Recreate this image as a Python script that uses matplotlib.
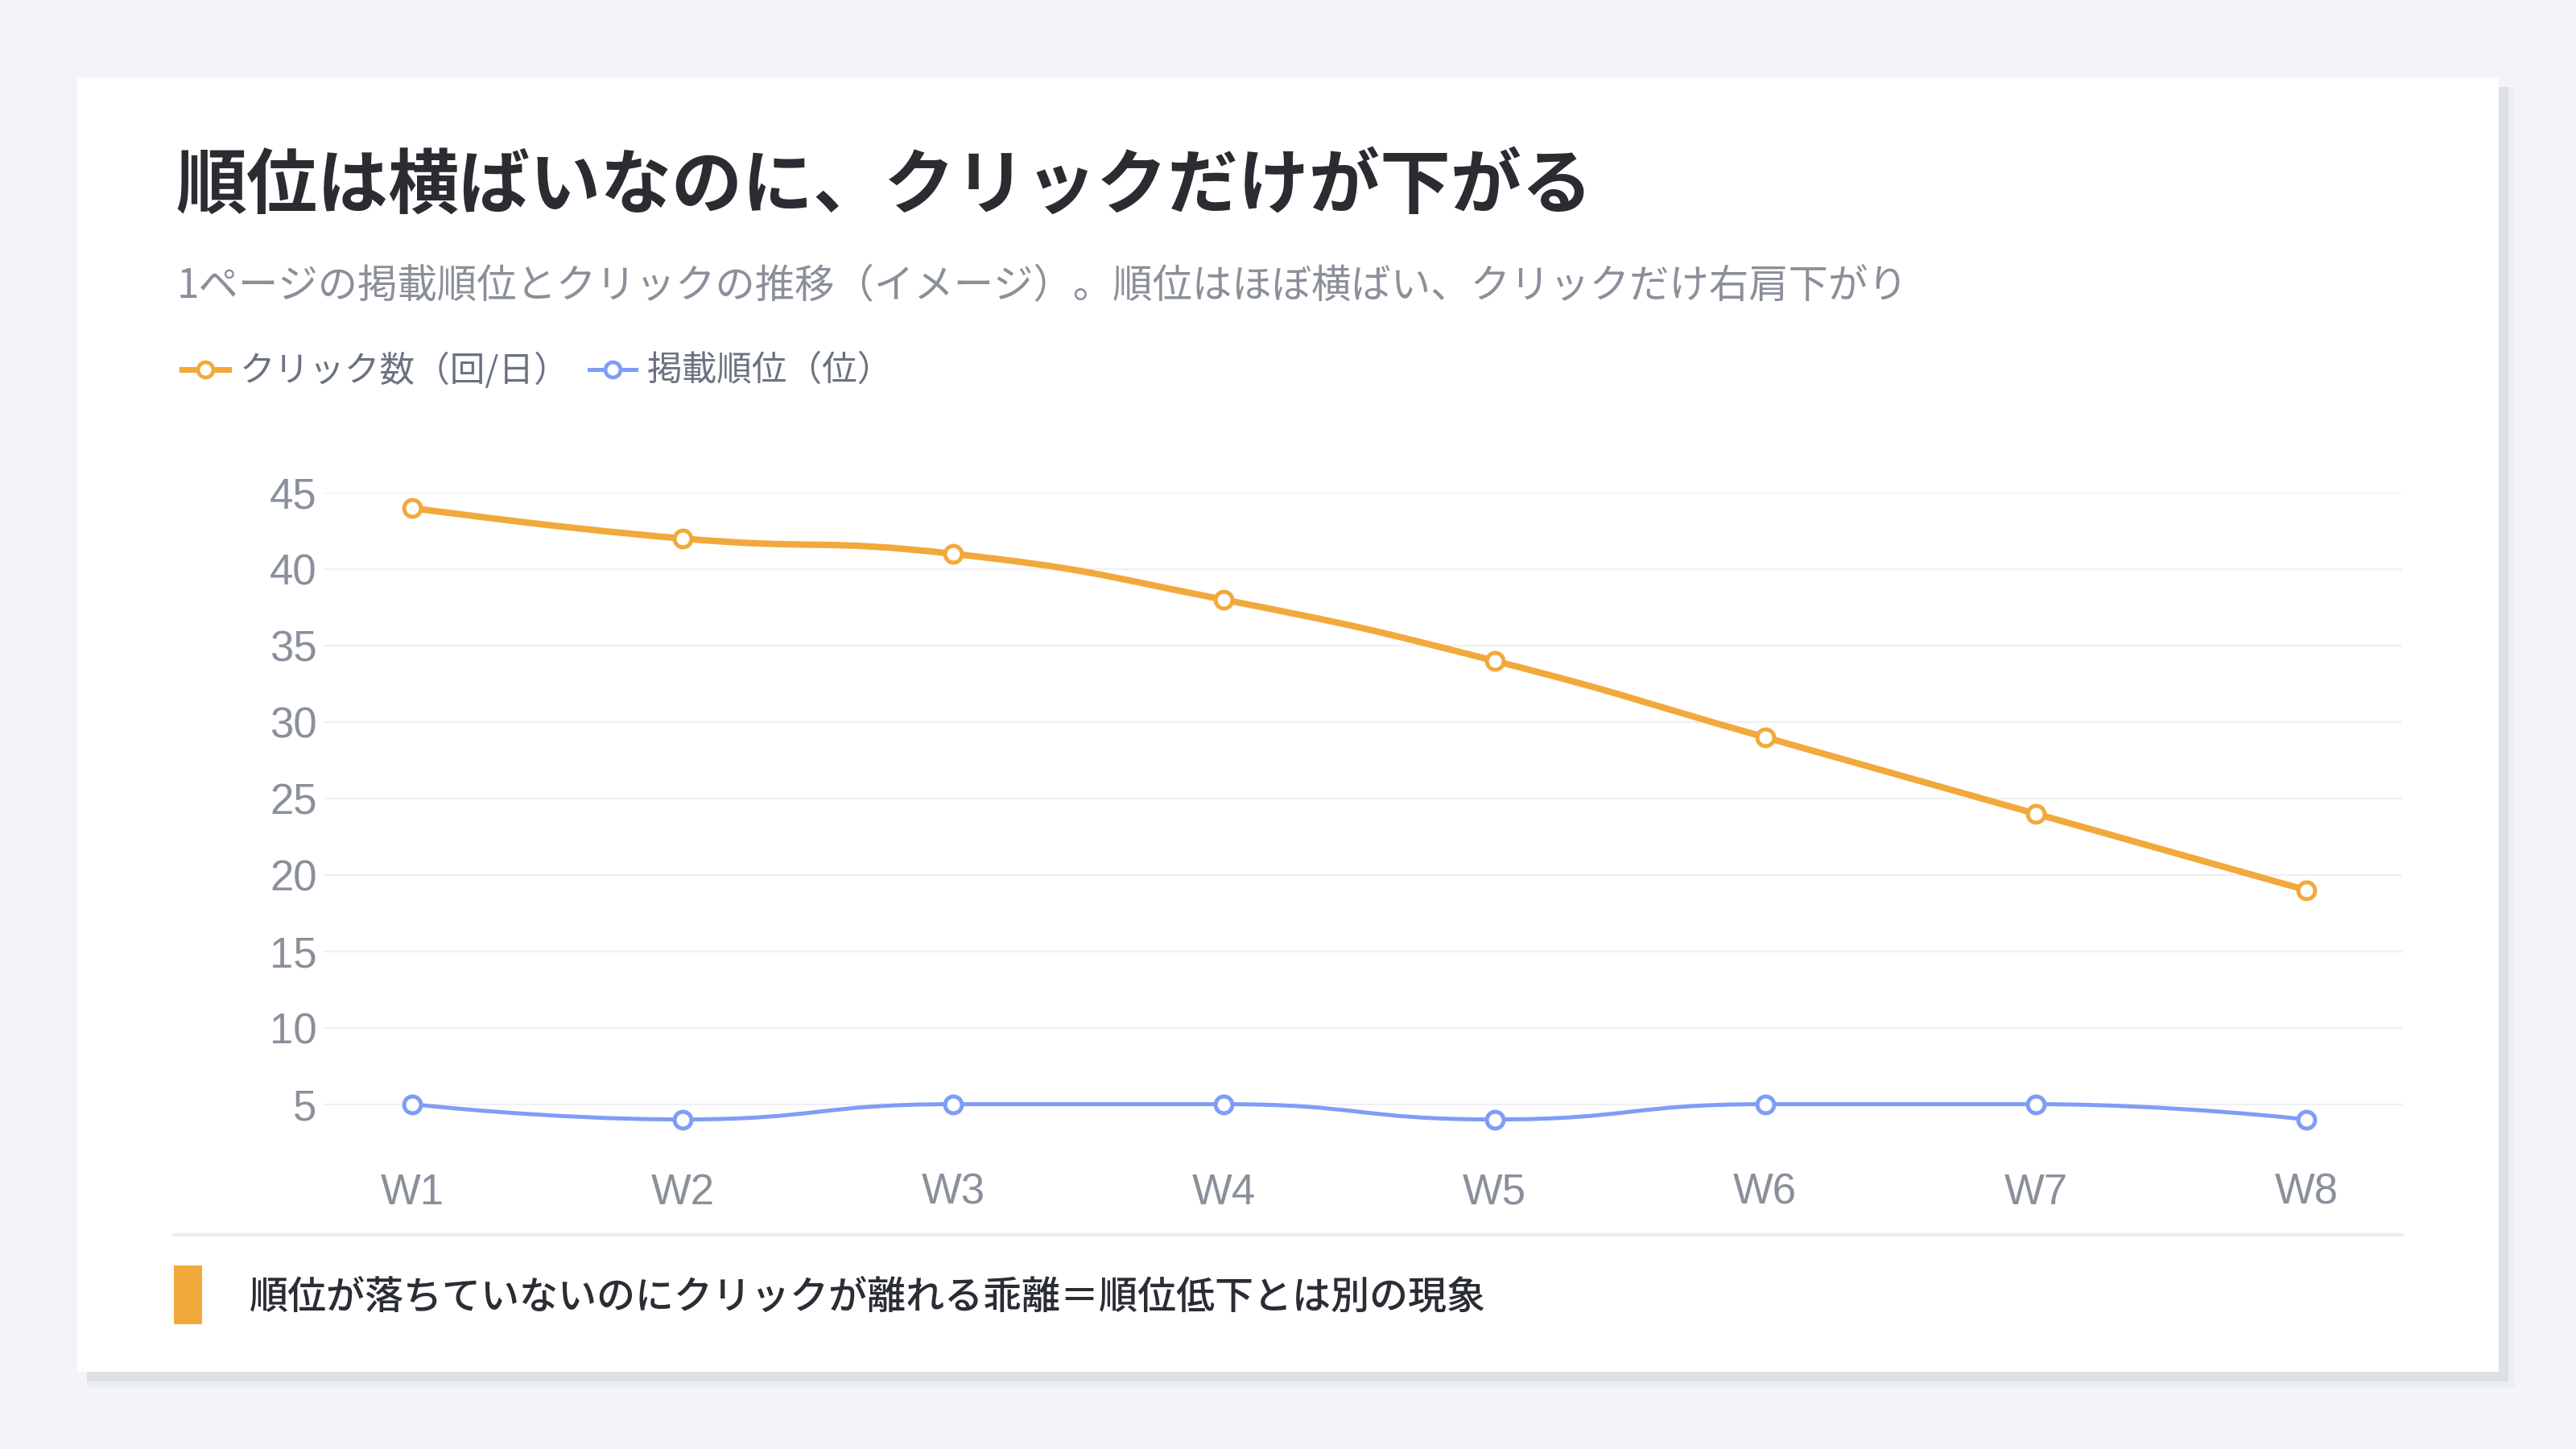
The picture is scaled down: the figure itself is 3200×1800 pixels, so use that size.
import matplotlib
matplotlib.use("Agg")
import matplotlib.pyplot as plt
from matplotlib.patches import Rectangle
from matplotlib.path import Path
from matplotlib.patches import PathPatch
from matplotlib.lines import Line2D

plt.rcParams['font.family'] = ['Noto Sans CJK JP', 'DejaVu Sans']

# ---- data ----
weeks = ["W1", "W2", "W3", "W4", "W5", "W6", "W7", "W8"]
clicks = [44, 42, 41, 38, 34, 29, 24, 19]
ranks = [5, 4, 5, 5, 4, 5, 5, 4]
y_ticks = [5, 10, 15, 20, 25, 30, 35, 40, 45]
title = "順位は横ばいなのに、クリックだけが下がる"
subtitle = "1ページの掲載順位とクリックの推移（イメージ）。順位はほぼ横ばい、クリックだけ右肩下がり"
legend_labels = ["クリック数（回/日）", "掲載順位（位）"]
footer = "順位が落ちていないのにクリックが離れる乖離＝順位低下とは別の現象"

ORANGE = "#F2A93B"
BLUE = "#7E9DF6"
GRID = "#EEF0F4"
TICK = "#8A909B"

W, H = 3200, 1800
fig = plt.figure(figsize=(16, 9), dpi=200)
fig.patch.set_facecolor("#F3F4F8")


def fx(x):
    return x / W


def fy(y):
    return 1 - y / H


def prect(x0, y0, x1, y1, color, z=0):
    fig.add_artist(Rectangle((fx(x0), fy(y1)), (x1 - x0) / W, (y1 - y0) / H,
                             transform=fig.transFigure, facecolor=color,
                             edgecolor="none", zorder=z))


# card with shadow
prect(108, 108, 3124, 1724, "#ECEEF2", 0)
prect(108, 108, 3116, 1716, "#DDE0E6", 0)
prect(96, 96, 3104, 1704, "#FFFFFF", 0)

# texts
fig.text(fx(218), fy(232), title, fontsize=31.7, fontweight="bold",
         color="#2A2C31", va="center", ha="left")
fig.text(fx(220), fy(356), subtitle, fontsize=17.8, color="#8A8F99",
         va="center", ha="left")

# legend
def legend_item(x0, label, color, lw):
    fig.add_artist(Line2D([fx(x0), fx(x0 + 58)], [fy(459), fy(459)],
                          transform=fig.transFigure, color=color, lw=lw,
                          marker=None, zorder=3))
    fig.add_artist(Line2D([fx(x0 + 29)], [fy(459)], transform=fig.transFigure,
                          color=color, marker="o", markersize=6.8,
                          markerfacecolor="white", markeredgewidth=1.7,
                          zorder=4))
    fig.text(fx(x0 + 72), fy(461), label, fontsize=15.7, color="#6B7280",
             va="center", ha="left")

legend_item(226, legend_labels[0], ORANGE, 2.6)
legend_item(732, legend_labels[1], BLUE, 1.8)

# axes
ax_left, ax_right, ax_top, ax_bottom = 402, 2984, 612, 1440
ax = fig.add_axes([fx(ax_left), fy(ax_bottom), (ax_right - ax_left) / W,
                   (ax_bottom - ax_top) / H])
ax.set_facecolor("none")
x = list(range(len(weeks)))
ax.set_xlim(-0.327, 7.354)
ax.set_ylim(1.4, 45)
for s in ax.spines.values():
    s.set_visible(False)
ax.set_yticks(y_ticks)
ax.set_yticklabels([str(v) for v in y_ticks], family=["Liberation Sans", "DejaVu Sans"])
ax.set_xticks(x)
ax.set_xticklabels(weeks, family=["Liberation Sans", "DejaVu Sans"])
ax.tick_params(axis="both", length=0, labelsize=19, labelcolor=TICK)
ax.tick_params(axis="y", pad=3)
ax.tick_params(axis="x", pad=6)
ax.grid(axis="y", color=GRID, lw=0.8)
ax.set_axisbelow(True)


def smooth_path(xs, ys, smooth=0.5):
    pts = ax.transData.transform(list(zip(xs, ys)))
    verts = [tuple(pts[0])]
    codes = [Path.MOVETO]
    n = len(pts)
    cpx0, cpy0 = pts[0]
    prevX, prevY = pts[0]
    for i in range(1, n):
        xx, yy = pts[i]
        if i == n - 1:
            cpx1, cpy1 = xx, yy
            nextCpx0, nextCpy0 = xx, yy
        else:
            nextX, nextY = pts[i + 1]
            vx = nextX - prevX
            vy = nextY - prevY
            dx0, dx1 = xx - prevX, nextX - xx
            dy0, dy1 = yy - prevY, nextY - yy
            lp = (dx0 ** 2 + dy0 ** 2) ** 0.5
            ln = (dx1 ** 2 + dy1 ** 2) ** 0.5
            r = ln / (ln + lp)
            nextCpx0 = xx + vx * smooth * r
            nextCpy0 = yy + vy * smooth * r
            nextCpx0 = min(nextCpx0, max(nextX, xx))
            nextCpy0 = min(nextCpy0, max(nextY, yy))
            nextCpx0 = max(nextCpx0, min(nextX, xx))
            nextCpy0 = max(nextCpy0, min(nextY, yy))
            vx = nextCpx0 - xx
            vy = nextCpy0 - yy
            cpx1 = xx - vx * lp / ln
            cpy1 = yy - vy * lp / ln
            cpx1 = min(cpx1, max(prevX, xx))
            cpy1 = min(cpy1, max(prevY, yy))
            cpx1 = max(cpx1, min(prevX, xx))
            cpy1 = max(cpy1, min(prevY, yy))
            vx = xx - cpx1
            vy = yy - cpy1
            nextCpx0 = xx + vx * ln / lp
            nextCpy0 = yy + vy * ln / lp
        verts += [(cpx0, cpy0), (cpx1, cpy1), (xx, yy)]
        codes += [Path.CURVE4] * 3
        cpx0, cpy0 = nextCpx0, nextCpy0
        prevX, prevY = xx, yy
    inv = ax.transData.inverted()
    return Path(inv.transform(verts), codes)


ax.add_patch(PathPatch(smooth_path(x, clicks), facecolor="none",
                       edgecolor=ORANGE, lw=2.9, zorder=3, capstyle="round",
                       joinstyle="round"))
ax.add_patch(PathPatch(smooth_path(x, ranks), facecolor="none",
                       edgecolor=BLUE, lw=1.8, zorder=3, capstyle="round",
                       joinstyle="round"))
ax.plot(x, clicks, ls="none", marker="o", markersize=7.5, markerfacecolor="white",
        markeredgecolor=ORANGE, markeredgewidth=1.8, zorder=4, clip_on=False)
ax.plot(x, ranks, ls="none", marker="o", markersize=7.5, markerfacecolor="white",
        markeredgecolor=BLUE, markeredgewidth=1.8, zorder=4, clip_on=False)

# separator
fig.add_artist(Line2D([fx(216), fx(2984)], [fy(1534), fy(1534)],
                      transform=fig.transFigure, color="#E8EBF0", lw=1.3))

# footer
prect(216, 1572, 251, 1645, ORANGE, 2)
fig.text(fx(310), fy(1612), footer, fontsize=17.3, color="#2A2D33",
         fontweight="medium", va="center", ha="left")

fig.savefig("out.png", dpi=200, facecolor=fig.get_facecolor())
